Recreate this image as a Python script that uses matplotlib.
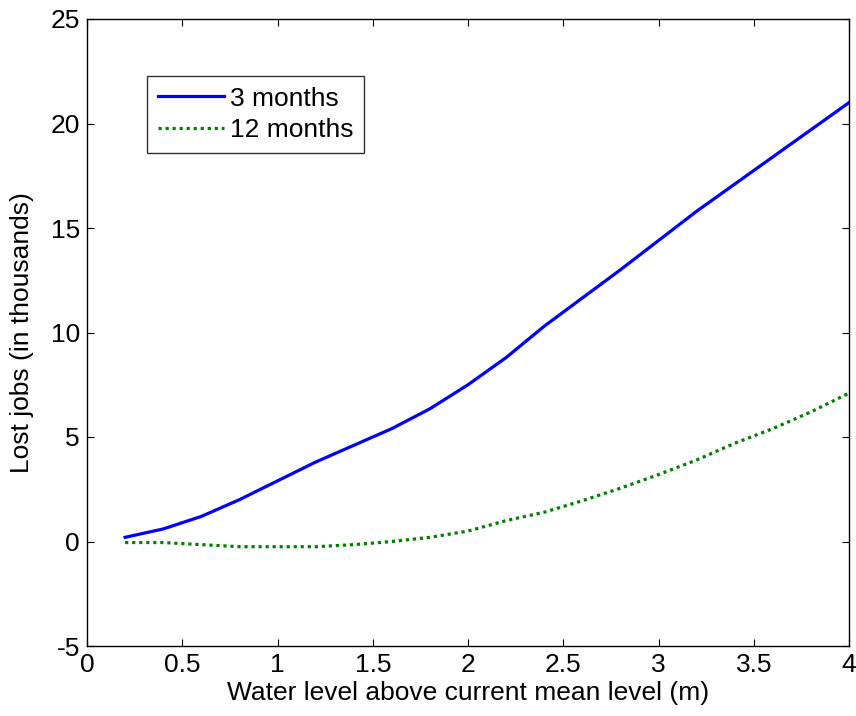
import numpy as np
import matplotlib.pyplot as plt

plt.rcParams['font.family'] = ['Liberation Sans', 'DejaVu Sans']
plt.rcParams['axes.unicode_minus'] = False

# water level (m) and lost jobs (thousands)
water_level = [0.2, 0.4, 0.6, 0.8, 1.0, 1.2, 1.4, 1.6, 1.8, 2.0,
               2.2, 2.4, 2.6, 2.8, 3.0, 3.2, 3.4, 3.6, 3.8, 4.0]
jobs_3m = [0.2, 0.6, 1.2, 2.0, 2.9, 3.8, 4.6, 5.4, 6.35, 7.5,
           8.8, 10.3, 11.65, 13.0, 14.4, 15.8, 17.1, 18.4, 19.7, 21.0]
jobs_12m = [-0.05, -0.05, -0.15, -0.25, -0.25, -0.25, -0.15, 0.0, 0.2, 0.5,
            1.0, 1.4, 1.95, 2.55, 3.2, 3.9, 4.7, 5.4, 6.2, 7.1]
x_ticks = [0, 0.5, 1, 1.5, 2, 2.5, 3, 3.5, 4]
y_ticks = [-5, 0, 5, 10, 15, 20, 25]

fig = plt.figure(figsize=(8.56, 7.16), dpi=100)
ax = fig.add_axes([87/856, 1 - 646/716, (849 - 87)/856, (646 - 19)/716])

ax.plot(water_level, jobs_3m, color='#0000ff', lw=2.3, label='3 months')
ax.plot(water_level, jobs_12m, color='#008000', lw=2.3, ls=(0, (1, 1.2)),
        dash_capstyle='butt', label='12 months')

ax.set_xlim(0, 4)
ax.set_ylim(-5, 25)
ax.set_xticks(x_ticks)
ax.set_xticklabels(['0', '0.5', '1', '1.5', '2', '2.5', '3', '3.5', '4'])
ax.set_yticks(y_ticks)
ax.tick_params(direction='in', top=True, right=True, length=5, width=0.8,
               labelsize=19, pad=5)
for s in ax.spines.values():
    s.set_linewidth(1.0)

ax.set_xlabel('Water level above current mean level (m)', fontsize=19, labelpad=3)
ax.set_ylabel('Lost jobs (in thousands)', fontsize=19, labelpad=12)

leg = ax.legend(loc='upper left', bbox_to_anchor=((147 - 87)/762, 1 - (76 - 19)/627),
                fontsize=19, frameon=True, fancybox=False, shadow=False,
                handlelength=2.5, handletextpad=0.25, borderpad=0.4,
                labelspacing=0.3, borderaxespad=0)
leg.get_frame().set_edgecolor('black')
leg.get_frame().set_linewidth(1.0)

fig.savefig('out.png', dpi=100)
